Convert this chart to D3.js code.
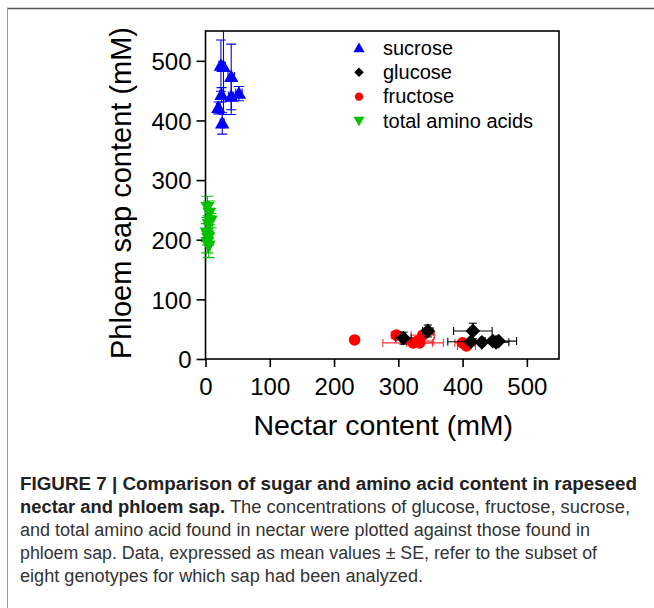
<!DOCTYPE html>
<html><head><meta charset="utf-8">
<script src="https://cdn.jsdelivr.net/npm/d3@7"></script>
<style>html,body{margin:0;padding:0;background:#fff;}svg{display:block;}</style>
</head><body>
<svg id="c" width="654" height="608"></svg>
<script>
// ---- data ----
const xTicks = [0, 100, 200, 300, 400, 500];
const yTicks = [0, 100, 200, 300, 400, 500];

const sucroseX  = [24, 28, 40, 25, 40, 52, 20, 26];
const sucroseY  = [492, 490, 473, 443, 440, 445, 421, 395];
const sucroseXE = [3, 3, 5, 3, 4, 5, 3, 3];
const sucroseYE = [43, 80, 55, 12, 30, 12, 10, 18];

const glucoseX  = [308, 346, 416, 413, 430, 447, 456, 452];
const glucoseY  = [35, 47, 47, 29, 28, 30, 30, 28];
const glucoseXE = [12, 8, 30, 36, 15, 12, 28, 20];
const glucoseYE = [10, 10, 13, 5, 4, 5, 4, 4];

const fructoseX  = [232, 297, 323, 333, 338, 330, 400, 406];
const fructoseY  = [32, 40, 27, 27, 40, 30, 27, 22];
const fructoseXE = [0, 8, 47, 20, 18, 25, 12, 14];
const fructoseYE = [0, 6, 4, 4, 5, 4, 4, 4];

const aminoX  = [3, 6, 8, 5, 2, 4, 3, 5];
const aminoY  = [255, 245, 232, 226, 212, 203, 196, 190];
const aminoXE = [2, 2, 3, 2, 2, 2, 2, 2];
const aminoYE = [18, 20, 12, 14, 15, 12, 18, 20];

const legendLabels = ["sucrose", "glucose", "fructose", "total amino acids"];

const captionBold = ["FIGURE 7 | Comparison of sugar and amino acid content in rapeseed", "nectar and phloem sap."];
const captionRest = [" The concentrations of glucose, fructose, sucrose,",
  "and total amino acid found in nectar were plotted against those found in",
  "phloem sap. Data, expressed as mean values \u00B1 SE, refer to the subset of",
  "eight genotypes for which sap had been analyzed."];

// ---- drawing ----
const svg = d3.select("#c");
const L = 205.5, R = 559, T = 31, B = 359;
const x = d3.scaleLinear().domain([0, 550]).range([L, R]);
const y = d3.scaleLinear().domain([0, 550]).range([B, T]);

// outer frame
svg.append("line").attr("x1", 7).attr("x2", 654).attr("y1", 8.5).attr("y2", 8.5).attr("stroke", "#555").attr("stroke-width", 1.5);
svg.append("line").attr("x1", 7.5).attr("x2", 7.5).attr("y1", 8).attr("y2", 608).attr("stroke", "#999").attr("stroke-width", 1);

svg.append("defs").append("clipPath").attr("id", "clip")
  .append("rect").attr("x", L - 30).attr("y", T).attr("width", R - L + 30).attr("height", B - T + 20);

const font = "Liberation Sans, Arial, Helvetica, sans-serif";

// axes
const xAxis = svg.append("g").attr("transform", `translate(0,${B})`)
  .call(d3.axisBottom(x).tickValues(xTicks).tickSize(8).tickPadding(6).tickFormat(d3.format("d")));
const yAxis = svg.append("g").attr("transform", `translate(${L},0)`)
  .call(d3.axisLeft(y).tickValues(yTicks).tickSize(9).tickPadding(5).tickFormat(d3.format("d")));
[xAxis, yAxis].forEach(g => {
  g.select(".domain").remove();
  g.selectAll("line").attr("stroke", "#000").attr("stroke-width", 1.6);
  g.selectAll("text").attr("font-family", font).attr("font-size", 24).attr("fill", "#000");
});
xAxis.selectAll("text").attr("dy", "0.9em");
yAxis.selectAll("text").attr("dy", "0.36em");

// plot frame
svg.append("rect").attr("x", L).attr("y", T).attr("width", R - L).attr("height", B - T)
  .attr("fill", "none").attr("stroke", "#000").attr("stroke-width", 1.6);

// axis titles
svg.append("text").attr("x", (L + R) / 2 + 1).attr("y", 435).attr("text-anchor", "middle")
  .attr("font-family", font).attr("font-size", 28.5).text("Nectar content (mM)");
svg.append("text").attr("transform", "translate(131,193) rotate(-90)").attr("text-anchor", "middle")
  .attr("font-family", font).attr("font-size", 29).text("Phloem sap content (mM)");

// series
const series = [
  {xs: fructoseX, ys: fructoseY, xe: fructoseXE, ye: fructoseYE, color: "#ff0000", err: "#ff3030", sym: d3.symbolCircle, size: 105, rot: 0, lsize: 55, cap: 4},
  {xs: glucoseX, ys: glucoseY, xe: glucoseXE, ye: glucoseYE, color: "#000000", err: "#000000", sym: d3.symbolSquare, size: 108, rot: 45, lsize: 45, cap: 4},
  {xs: aminoX, ys: aminoY, xe: aminoXE, ye: aminoYE, color: "#00c000", err: "#00c000", sym: d3.symbolTriangle, size: 85, rot: 180, lsize: 52, cap: 6},
  {xs: sucroseX, ys: sucroseY, xe: sucroseXE, ye: sucroseYE, color: "#0000ff", err: "#0000ff", sym: d3.symbolTriangle, size: 90, rot: 0, lsize: 55, cap: 5}
];
series.forEach(s => {
  const cap = s.cap;
  const data = s.xs.map((v, i) => ({x: v, y: s.ys[i], xe: s.xe[i], ye: s.ye[i]}));
  const g = svg.append("g").attr("clip-path", "url(#clip)");
  const eg = g.append("g").attr("stroke", s.err).attr("stroke-width", 1.1).attr("fill", "none");
  data.forEach(d => {
    if (d.ye > 0) {
      eg.append("line").attr("x1", x(d.x)).attr("x2", x(d.x)).attr("y1", y(d.y - d.ye)).attr("y2", y(d.y + d.ye));
      [d.y - d.ye, d.y + d.ye].forEach(v => eg.append("line").attr("x1", x(d.x) - cap).attr("x2", x(d.x) + cap).attr("y1", y(v)).attr("y2", y(v)));
    }
    if (d.xe > 0) {
      eg.append("line").attr("y1", y(d.y)).attr("y2", y(d.y)).attr("x1", x(d.x - d.xe)).attr("x2", x(d.x + d.xe));
      [d.x - d.xe, d.x + d.xe].forEach(v => eg.append("line").attr("y1", y(d.y) - cap).attr("y2", y(d.y) + cap).attr("x1", x(v)).attr("x2", x(v)));
    }
  });
  g.selectAll("path.m").data(data).join("path").attr("class", "m")
    .attr("d", d3.symbol().type(s.sym).size(s.size))
    .attr("transform", d => `translate(${x(d.x)},${y(d.y) + (s.sym === d3.symbolTriangle ? (s.rot ? -1 : 1) : 0)}) rotate(${s.rot})`)
    .attr("fill", s.color);
});

// legend
const legOrder = [3, 1, 0, 2];
legOrder.forEach((si, i) => {
  const s = series[si];
  const yy = 48 + i * 24.3;
  svg.append("path").attr("d", d3.symbol().type(s.sym).size(s.lsize)())
    .attr("transform", `translate(359,${yy + (s.sym === d3.symbolTriangle ? (s.rot ? -1 : 1) : 0)}) rotate(${s.rot})`)
    .attr("fill", s.color);
  svg.append("text").attr("x", 383).attr("y", yy).attr("dy", "0.33em")
    .attr("font-family", font).attr("font-size", 20).text(legendLabels[i]);
});

// caption
const capX = 20;
const baselines = [490, 513, 536, 559, 582];
const widths = [617, 610, 570, 577, 403];
const capFont = "Liberation Sans, Arial, Helvetica, sans-serif";
svg.append("text").attr("x", capX).attr("y", baselines[0]).attr("font-family", capFont)
  .attr("font-size", 18).attr("font-weight", "bold").attr("fill", "#222")
  .attr("textLength", widths[0]).attr("lengthAdjust", "spacingAndGlyphs").text(captionBold[0]);
const t2 = svg.append("text").attr("x", capX).attr("y", baselines[1]).attr("font-family", capFont)
  .attr("font-size", 18).attr("fill", "#333");
t2.append("tspan").attr("font-weight", "bold").attr("fill", "#222").text(captionBold[1]);
t2.append("tspan").text(captionRest[0]);
t2.attr("textLength", widths[1]).attr("lengthAdjust", "spacingAndGlyphs");
for (let i = 1; i < 4; i++) {
  svg.append("text").attr("x", capX).attr("y", baselines[i + 1]).attr("font-family", capFont)
    .attr("font-size", 18).attr("fill", "#333")
    .attr("textLength", widths[i + 1]).attr("lengthAdjust", "spacingAndGlyphs").text(captionRest[i]);
}
</script>
</body></html>
